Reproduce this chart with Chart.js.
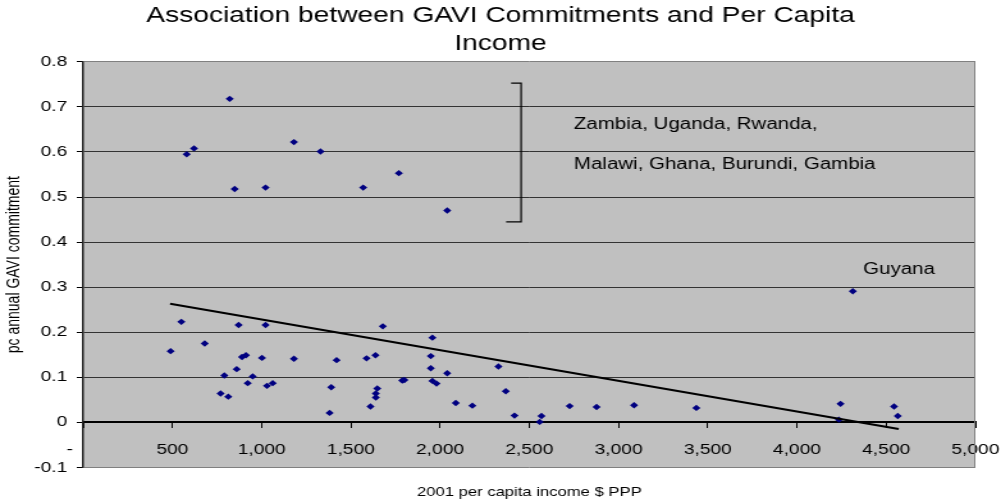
<!DOCTYPE html>
<html>
<head>
<meta charset="utf-8">
<script src="https://cdn.jsdelivr.net/npm/chart.js@4/dist/chart.umd.min.js"></script>
<style>
  html, body { margin: 0; padding: 0; background: #fff; overflow: hidden; }
  #wrap { width: 782px; height: 504px; transform-origin: 0 0; }
</style>
</head>
<body>
<div id="wrap"><canvas id="gaviChart" width="782" height="504"></canvas></div>
<script>
// 2001 per capita income ($ PPP) and annual GAVI commitment per capita
const income = [
  821, 580, 621, 849, 1022, 1181, 1330, 1569, 1769, 2040, 4313,
  490, 550, 681, 871, 1022, 791, 770, 813, 860, 890, 912, 922, 950,
  1002, 1030, 1062, 1181, 1390, 1420, 1381, 1588, 1638, 1610, 1640,
  1640, 1648, 1679, 1788, 1800, 1957, 1948, 1948, 1957, 1980, 2040,
  2088, 2181, 2327, 2368, 2417, 2568, 2558, 2726, 2877, 3087, 3436,
  4244, 4235, 4544, 4565
];
const commitment = [
  0.718, 0.595, 0.608, 0.518, 0.521, 0.622, 0.601, 0.521, 0.553, 0.470, 0.291,
  0.158, 0.223, 0.175, 0.216, 0.216, 0.104, 0.064, 0.057, 0.118, 0.145, 0.149, 0.087, 0.102,
  0.143, 0.081, 0.087, 0.141, 0.078, 0.138, 0.021, 0.142, 0.149, 0.035, 0.055,
  0.064, 0.075, 0.213, 0.093, 0.094, 0.188, 0.147, 0.120, 0.092, 0.086, 0.109,
  0.043, 0.037, 0.124, 0.069, 0.015, 0.014, 0.001, 0.036, 0.034, 0.038, 0.032,
  0.041, 0.006, 0.035, 0.014
];

// linear trend, start and end
const trendIncome = [487, 4570];
const trendCommitment = [0.263, -0.015];

const xTicks = [0, 500, 1000, 1500, 2000, 2500, 3000, 3500, 4000, 4500, 5000];
const yTicks = [-0.1, 0, 0.1, 0.2, 0.3, 0.4, 0.5, 0.6, 0.7, 0.8];

// bracket around the high group and its country notes (data coordinates)
const bracket = { x: 2454, top: 0.753, bottom: 0.445, topFrom: 2398, bottomFrom: 2370 };
const notes = [
  { text: 'Zambia, Uganda, Rwanda,', x: 2750, y: 0.66 },
  { text: 'Malawi, Ghana, Burundi, Gambia', x: 2750, y: 0.571 },
  { text: 'Guyana', x: 4371, y: 0.338 }
];

// the sheet this came from was stretched sideways
const wrap = document.getElementById('wrap');
wrap.style.transform = 'scaleX(' + (1001 / 782) + ')';

Chart.defaults.font.family = "'Liberation Sans', Arial, sans-serif";
Chart.defaults.color = '#000';

const points = income.map((x, i) => ({ x: x, y: commitment[i] }));
const trend = trendIncome.map((x, i) => ({ x: x, y: trendCommitment[i] }));

const plotFrame = {
  id: 'plotFrame',
  beforeDraw(chart) {
    const { ctx, chartArea: a } = chart;
    ctx.save();
    ctx.fillStyle = '#c0c0c0';
    ctx.fillRect(a.left, a.top, a.right - a.left, a.bottom - a.top);
    ctx.restore();
  },
  afterDraw(chart) {
    const { ctx, chartArea: a, scales } = chart;
    const xs = scales.x, ys = scales.y;
    ctx.save();
    ctx.strokeStyle = '#808080';
    ctx.lineWidth = 1;
    ctx.beginPath();
    ctx.moveTo(a.right - 0.5, a.top);
    ctx.lineTo(a.right - 0.5, a.bottom);
    ctx.stroke();

    ctx.strokeStyle = '#000';
    ctx.lineWidth = 1.2;
    ctx.beginPath();
    ctx.moveTo(xs.getPixelForValue(bracket.topFrom), ys.getPixelForValue(bracket.top));
    ctx.lineTo(xs.getPixelForValue(bracket.x), ys.getPixelForValue(bracket.top));
    ctx.lineTo(xs.getPixelForValue(bracket.x), ys.getPixelForValue(bracket.bottom));
    ctx.lineTo(xs.getPixelForValue(bracket.bottomFrom), ys.getPixelForValue(bracket.bottom));
    ctx.stroke();

    ctx.fillStyle = '#000';
    ctx.font = "16px 'Liberation Sans', Arial, sans-serif";
    ctx.textAlign = 'left';
    ctx.textBaseline = 'middle';
    notes.forEach(n => {
      ctx.fillText(n.text, xs.getPixelForValue(n.x), ys.getPixelForValue(n.y));
    });
    ctx.restore();
  }
};

new Chart(document.getElementById('gaviChart'), {
  type: 'scatter',
  data: {
    datasets: [
      {
        label: 'Trend',
        data: trend,
        showLine: true,
        borderColor: '#000',
        borderWidth: 2,
        pointRadius: 0,
        fill: false,
        order: 0
      },
      {
        label: 'Countries',
        data: points,
        pointStyle: 'rectRot',
        pointRadius: 3.2,
        pointBorderWidth: 0,
        backgroundColor: '#000080',
        borderColor: '#000080',
        order: 1
      }
    ]
  },
  options: {
    responsive: false,
    devicePixelRatio: 1,
    animation: false,
    layout: { padding: 0 },
    plugins: {
      legend: { display: false },
      tooltip: { enabled: false },
      title: {
        display: true,
        text: ['Association between GAVI Commitments and Per Capita', 'Income'],
        font: { size: 22, weight: 'normal', lineHeight: 1.27 },
        color: '#000',
        padding: { top: 2, bottom: 4 }
      },
      subtitle: {
        display: true,
        position: 'bottom',
        fullSize: false,
        text: '2001 per capita income $ PPP',
        font: { size: 13, lineHeight: 1.2 },
        color: '#000',
        padding: { top: 17, bottom: 4 }
      }
    },
    scales: {
      x: {
        type: 'linear',
        position: { y: 0 },
        min: xTicks[0],
        max: xTicks[xTicks.length - 1],
        afterBuildTicks: scale => { scale.ticks = xTicks.map(v => ({ value: v })); },
        // room on the right for the last label, none on the left
        afterFit: scale => { scale.paddingLeft = 0; scale.paddingRight = 20; },
        ticks: {
          autoSkip: false,
          maxRotation: 0,
          padding: 14,
          font: { size: 15 },
          callback: v => v === 0 ? '-\u00a0\u00a0\u00a0\u00a0\u00a0' : v.toLocaleString('en-US')
        },
        grid: { drawOnChartArea: false, drawTicks: true, tickLength: 5, color: '#000' },
        border: { color: '#000', width: 2 }
      },
      y: {
        type: 'linear',
        min: yTicks[0],
        max: yTicks[yTicks.length - 1],
        afterBuildTicks: scale => { scale.ticks = yTicks.map(v => ({ value: v })); },
        afterFit: scale => { scale.width = 65; },
        ticks: {
          padding: 7.5,
          font: { size: 15 },
          callback: v => Math.abs(v) < 1e-9 ? '0' : v.toFixed(1)
        },
        grid: {
          tickLength: 5,
          color: ctx => {
            const v = ctx.tick ? ctx.tick.value : 0;
            return (Math.abs(v - 0.8) < 1e-6 || Math.abs(v + 0.1) < 1e-6) ? '#808080' : '#333';
          },
          tickColor: '#000'
        },
        border: { color: '#222', width: 1.5 },
        title: {
          display: true,
          text: 'pc annual GAVI commitment',
          font: { size: 14 },
          padding: { top: 3, bottom: 0 }
        }
      }
    }
  },
  plugins: [plotFrame]
});
</script>
</body>
</html>
